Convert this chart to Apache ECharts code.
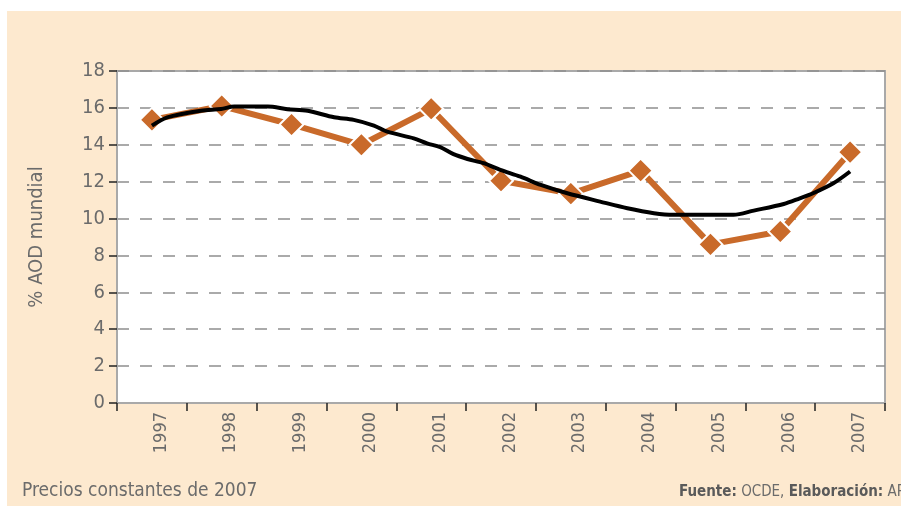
<!DOCTYPE html>
<html>
<head>
<meta charset="utf-8">
<script src="https://cdn.jsdelivr.net/npm/echarts@6/dist/echarts.min.js"></script>
<style>
  html, body { margin: 0; padding: 0; background: #ffffff; }
  #chart { width: 901px; height: 506px; }
</style>
</head>
<body>
<div id="chart"></div>
<script>
// years on the category axis
const years = ['1997', '1998', '1999', '2000', '2001', '2002', '2003', '2004', '2005', '2006', '2007'];
// % AOD mundial, yearly
const aodValues = [15.35, 16.1, 15.1, 14.0, 15.95, 12.05, 11.35, 12.6, 8.6, 9.3, 13.6];
// black trend line, sampled along the years
const trendYears = [1997, 1997.22, 1997.7, 1997.99, 1998.18, 1998.66, 1998.94, 1999.23, 1999.61, 1999.89,
  2000.18, 2000.37, 2000.75, 2000.94, 2001.13, 2001.32, 2001.52, 2001.75, 2001.99, 2002.28, 2002.57,
  2002.95, 2003.42, 2003.81, 2004.19, 2004.47, 2005.33, 2005.62, 2006.05, 2006.28, 2006.47, 2006.76, 2007];
const trendValues = [15.04, 15.49, 15.85, 15.94, 16.07, 16.07, 15.93, 15.84, 15.49, 15.35,
  15.04, 14.71, 14.35, 14.08, 13.87, 13.49, 13.23, 13.0, 12.64, 12.27, 11.82,
  11.37, 10.92, 10.56, 10.29, 10.2, 10.2, 10.43, 10.79, 11.1, 11.37, 11.91, 12.55];
const yTicks = { min: 0, max: 18, step: 2 };

const grey = '#6b6b6b';
const font = '"DejaVu Sans Condensed", "Liberation Sans Narrow", "Noto Sans", sans-serif';

const chart = echarts.init(document.getElementById('chart'));

const option = {
  animation: false,
  backgroundColor: '#ffffff',
  graphic: [
    { type: 'rect', z: -10, shape: { x: 7, y: 11, width: 894, height: 495 }, style: { fill: '#fde9cf' } },
    {
      type: 'text', left: 22, top: 482,
      style: { text: 'Precios constantes de 2007', fill: grey, font: '19px ' + font }
    },
    {
      type: 'text', left: 679, top: 485,
      style: {
        text: '{b|Fuente:} OCDE, {b|Elaboración:} APC',
        fill: grey, font: '15px ' + font,
        rich: { b: { fontWeight: 'bold', fontSize: 15, fill: '#5a5a5a', fontFamily: font } }
      }
    }
  ],
  grid: { left: 117, top: 71, right: 16, bottom: 103, show: true, backgroundColor: '#ffffff', borderColor: '#a9a9a9', borderWidth: 2 },
  xAxis: [
    {
      type: 'category',
      data: years,
      boundaryGap: true,
      axisLine: { show: true, lineStyle: { color: '#a9a9a9', width: 2 } },
      axisTick: { show: true, length: 8, lineStyle: { color: '#222', width: 1.5 } },
      axisLabel: { rotate: 90, color: grey, fontSize: 18, fontFamily: font, margin: 9, verticalAlign: 'top' },
      splitLine: { show: false }
    },
    { type: 'value', min: 1996.5, max: 2007.5, show: false }
  ],
  yAxis: {
    type: 'value',
    min: yTicks.min, max: yTicks.max, interval: yTicks.step,
    name: '% AOD mundial',
    nameLocation: 'middle',
    nameGap: 70,
    nameTextStyle: { color: grey, fontSize: 20, fontFamily: font },
    axisLine: { show: true, lineStyle: { color: '#a9a9a9', width: 2 } },
    axisTick: { show: true, length: 8, lineStyle: { color: '#222', width: 1.5 } },
    axisLabel: { color: grey, fontSize: 20, fontFamily: font, margin: 12 },
    splitLine: { show: true, lineStyle: { color: '#8f8f8f', width: 1.5, type: [12, 11] } }
  },
  series: [
    {
      type: 'line',
      data: aodValues,
      symbol: 'diamond',
      symbolSize: 24,
      itemStyle: { color: '#c96a2a', borderColor: '#ffffff', borderWidth: 2 },
      lineStyle: { color: '#c96a2a', width: 6 },
      z: 3
    },
    {
      type: 'line',
      xAxisIndex: 1,
      data: trendYears.map((x, i) => [x, trendValues[i]]),
      symbol: 'none',
      smooth: 0.3,
      lineStyle: { color: '#000000', width: 4 },
      z: 4
    }
  ]
};

chart.setOption(option);
</script>
</body>
</html>
